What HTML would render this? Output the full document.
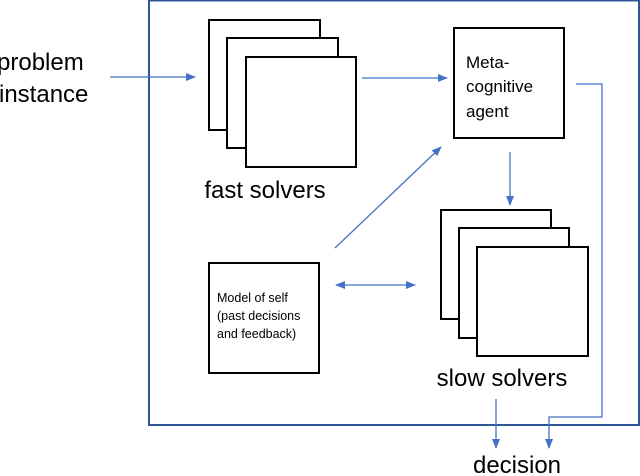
<html><body style="margin:0;background:#fff">
<svg width="640" height="476" viewBox="0 0 640 476" xmlns="http://www.w3.org/2000/svg" style="font-family:'Liberation Sans',sans-serif">
<defs><marker id="a" markerWidth="10" markerHeight="8" refX="9" refY="4" orient="auto-start-reverse" markerUnits="userSpaceOnUse"><path d="M0,0L10,4L0,8z" fill="#4472c4"/></marker></defs>
<rect x="149" y="0.5" width="490" height="424.5" fill="none" stroke="#2f5597" stroke-width="2"/>
<g fill="#fff" stroke="#000" stroke-width="2">
<rect x="209" y="20" width="111" height="110"/><rect x="227" y="38" width="111" height="110"/><rect x="246" y="57" width="110" height="110"/>
<rect x="454" y="28" width="110" height="110"/>
<rect x="441" y="210" width="110" height="109"/><rect x="459" y="228" width="110" height="110"/><rect x="477" y="247" width="111" height="109"/>
<rect x="209" y="263" width="110" height="110"/>
</g>
<g stroke="#4472c4" stroke-width="1.3" fill="none">
<line x1="110" y1="77" x2="195" y2="77" marker-end="url(#a)"/>
<line x1="362" y1="78" x2="447" y2="78" marker-end="url(#a)"/>
<line x1="510" y1="152" x2="510" y2="205" marker-end="url(#a)"/>
<line x1="335" y1="248" x2="441" y2="147" marker-end="url(#a)"/>
<line x1="336" y1="285" x2="415" y2="285" marker-start="url(#a)" marker-end="url(#a)"/>
<polyline points="576,84 602,84 602,417 549,417 549,448" marker-end="url(#a)"/>
<line x1="496" y1="399" x2="496" y2="448" marker-end="url(#a)"/>
</g>
<g font-size="24" fill="#000">
<text x="-3" y="70">problem</text><text x="-1" y="102">instance</text>
<text x="265" y="198" text-anchor="middle">fast solvers</text>
<text x="502" y="386" text-anchor="middle">slow solvers</text>
<text x="517" y="473" text-anchor="middle">decision</text>
</g>
<g font-size="17"><text x="466" y="68">Meta-</text><text x="466" y="92">cognitive</text><text x="466" y="117">agent</text></g>
<g font-size="12.5"><text x="217" y="302">Model of self</text><text x="217" y="320">(past decisions</text><text x="217" y="338">and feedback)</text></g>
</svg>
</body></html>
